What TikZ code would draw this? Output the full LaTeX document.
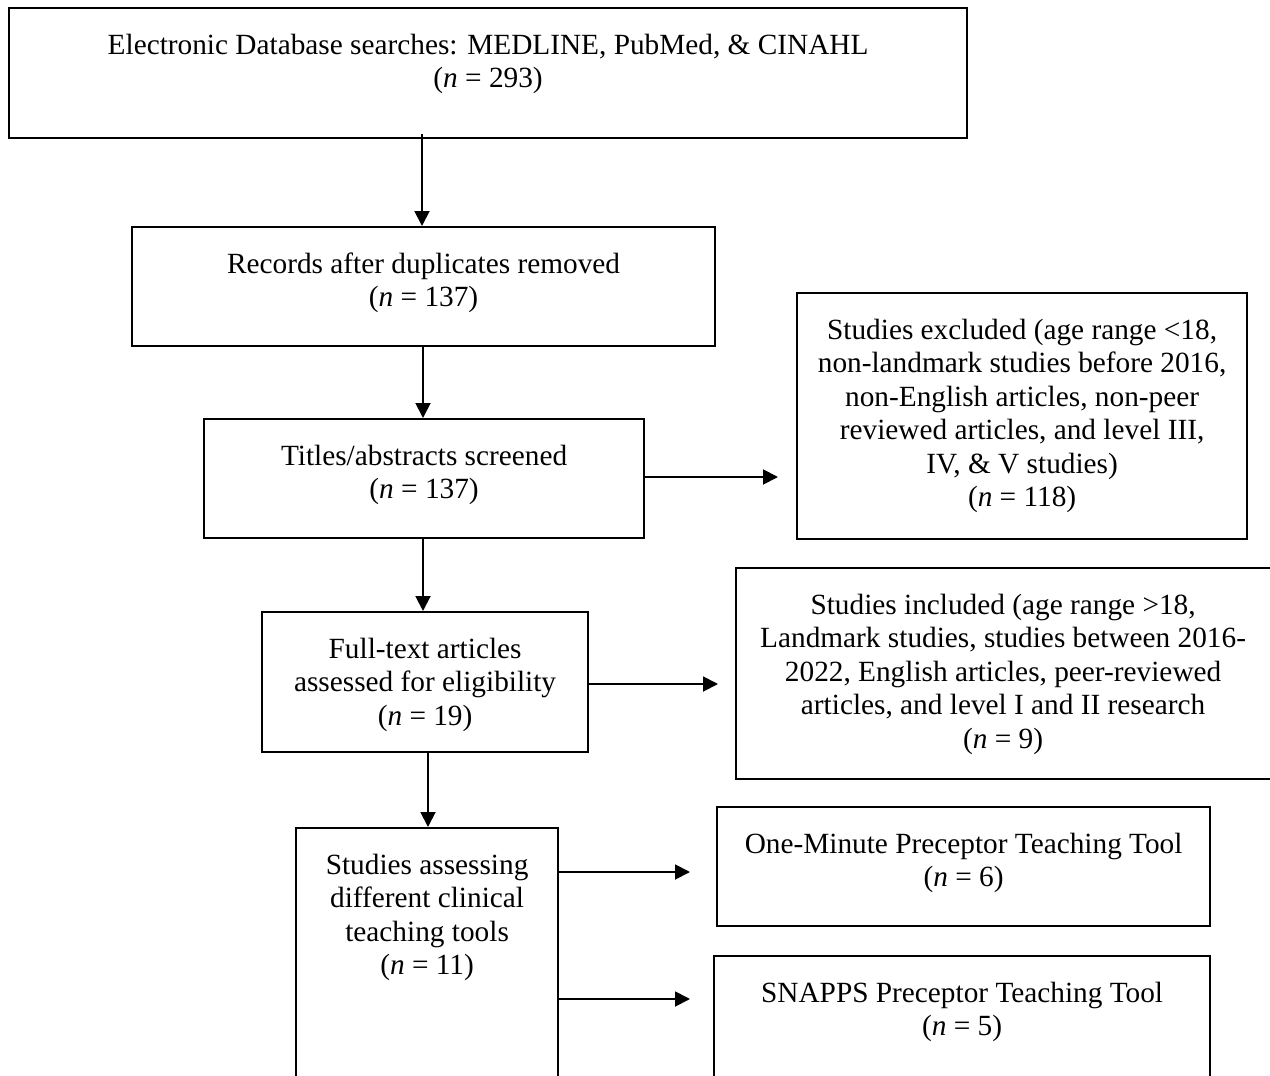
\documentclass[tikz,border=0pt]{standalone}
\usepackage{fontspec}
\setmainfont{Liberation Serif}
\usetikzlibrary{arrows.meta}
\newcommand{\firststrut}{\rule{0pt}{26pt}}
\begin{document}
\begin{tikzpicture}[x=1pt,y=-1pt,
  flowbox/.style={draw, line width=2.2pt, inner sep=0pt, anchor=north west},
  boxtext/.style={inner sep=0pt, align=center, anchor=north,
    font=\fontsize{29.3}{33.5}\selectfont},
  flowarrow/.style={line width=1.9pt, -{Triangle[length=15pt,width=15pt]}}]
\useasboundingbox (0,0) rectangle (1270,1076);
% boxes
\node[flowbox, minimum width=958pt, minimum height=130pt] (b1) at (8,7) {};
\node[flowbox, minimum width=583pt, minimum height=119pt] (b2) at (131,226) {};
\node[flowbox, minimum width=440pt, minimum height=119pt] (b3) at (203,418) {};
\node[flowbox, minimum width=450pt, minimum height=246pt] (b4) at (796,292) {};
\node[flowbox, minimum width=326pt, minimum height=140pt] (b5) at (261,611) {};
\node[flowbox, minimum width=540pt, minimum height=211pt] (b6) at (735,567) {};
\node[flowbox, minimum width=262pt, minimum height=300pt] (b7) at (295,827) {};
\node[flowbox, minimum width=493pt, minimum height=119pt] (b8) at (716,806) {};
\node[flowbox, minimum width=496pt, minimum height=200pt] (b9) at (713,955) {};
% texts
\node[boxtext] (t1) at ([yshift=-21pt]b1.north) {\firststrut Electronic Database searches: MEDLINE, PubMed, \& CINAHL\\(\textit{n} = 293)};
\node[boxtext] (t2) at ([yshift=-21pt]b2.north) {\firststrut Records after duplicates removed\\(\textit{n} = 137)};
\node[boxtext] (t3) at ([yshift=-21pt]b3.north) {\firststrut Titles/abstracts screened\\(\textit{n} = 137)};
\node[boxtext] (t4) at ([yshift=-21pt]b4.north) {\firststrut Studies excluded (age range <18,\\non-landmark studies before 2016,\\non-English articles, non-peer\\reviewed articles, and level III,\\IV, \& V studies)\\(\textit{n} = 118)};
\node[boxtext] (t5) at ([yshift=-21pt]b5.north) {\firststrut Full-text articles\\assessed for eligibility\\(\textit{n} = 19)};
\node[boxtext] (t6) at ([xshift=-3pt,yshift=-21pt]b6.north) {\firststrut Studies included (age range >18,\\Landmark studies, studies between 2016-\\2022, English articles, peer-reviewed\\articles, and level I and II research\\(\textit{n} = 9)};
\node[boxtext] (t7) at ([yshift=-21pt]b7.north) {\firststrut Studies assessing\\different clinical\\teaching tools\\(\textit{n} = 11)};
\node[boxtext] (t8) at ([yshift=-21pt]b8.north) {\firststrut One-Minute Preceptor Teaching Tool\\(\textit{n} = 6)};
\node[boxtext] (t9) at ([yshift=-21pt]b9.north) {\firststrut SNAPPS Preceptor Teaching Tool\\(\textit{n} = 5)};
% helper coordinates
\coordinate (v1) at (422,0);
\coordinate (v2) at (423,0);
\coordinate (v3) at (428,0);
\coordinate (h1) at (778,477);
\coordinate (h2) at (718,684);
\coordinate (h3) at (690,872);
\coordinate (h4) at (690,999);
% connectors
\draw[flowarrow] ([yshift=5pt]b1.south -| v1) -- (b2.north -| v1);
\draw[flowarrow] (b2.south -| v2) -- (b3.north -| v2);
\draw[flowarrow] (b3.south -| v2) -- (b5.north -| v2);
\draw[flowarrow] (b5.south -| v3) -- (b7.north -| v3);
\draw[flowarrow] (b3.east |- h1) -- (h1);
\draw[flowarrow] (b5.east |- h2) -- (h2);
\draw[flowarrow] (b7.east |- h3) -- (h3);
\draw[flowarrow] (b7.east |- h4) -- (h4);
\end{tikzpicture}
\end{document}
